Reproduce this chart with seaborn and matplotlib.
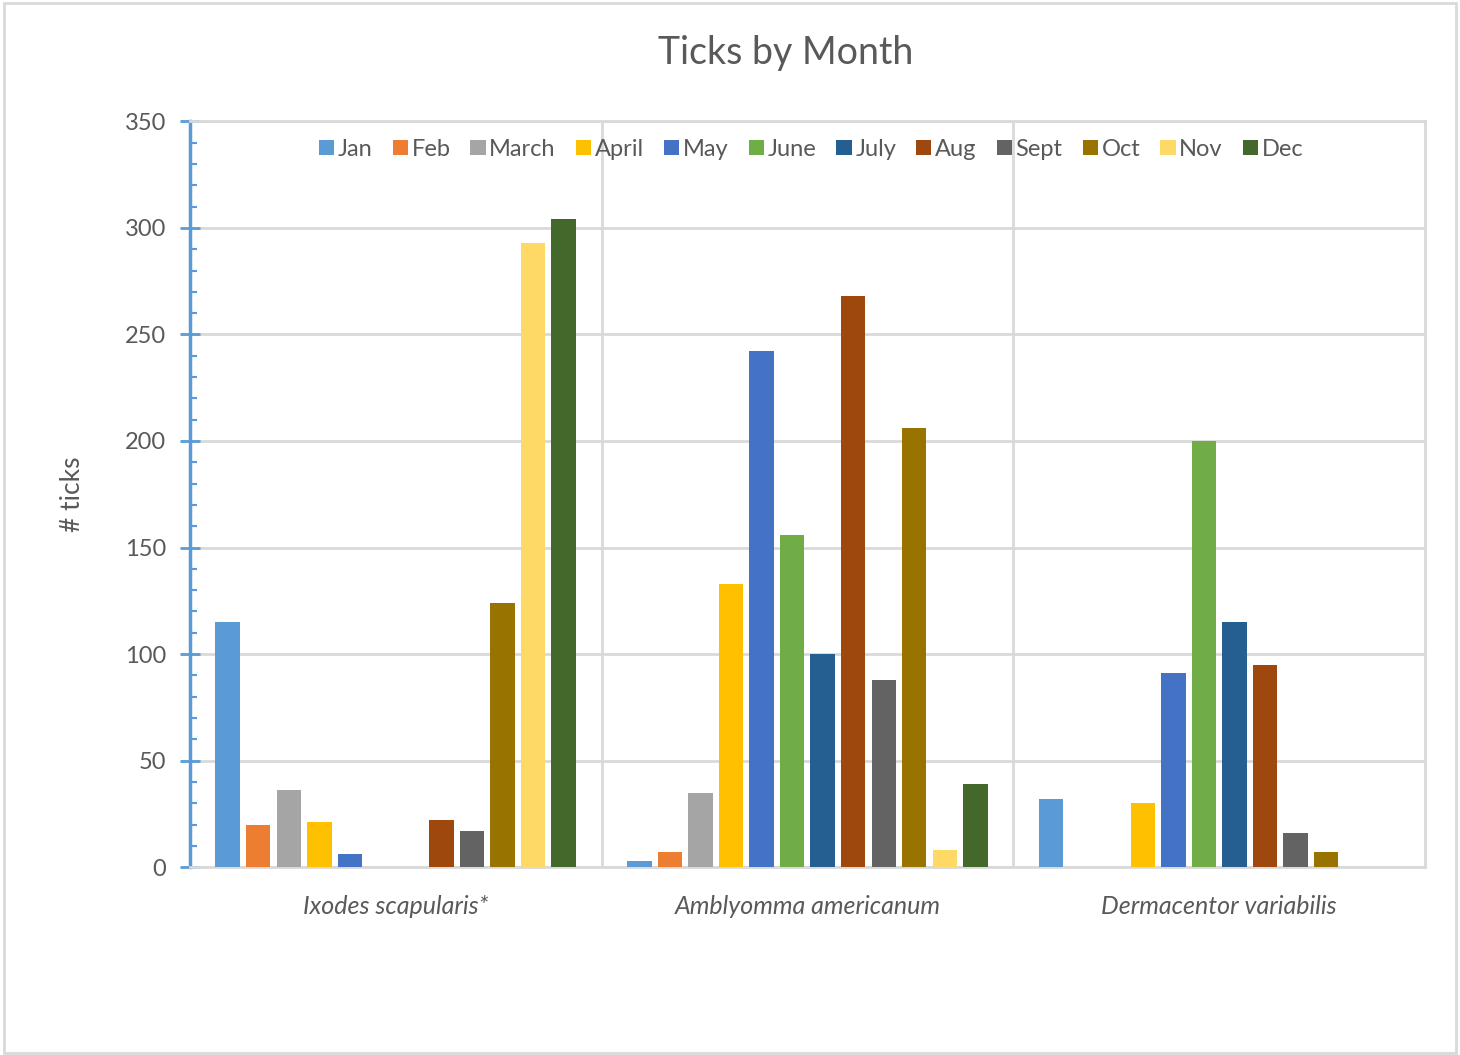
import matplotlib
matplotlib.use("Agg")
import matplotlib.pyplot as plt
import seaborn as sns
import pandas as pd
from matplotlib.patches import Rectangle
from matplotlib.ticker import MultipleLocator

species = ["Ixodes scapularis*", "Amblyomma americanum", "Dermacentor variabilis"]
months = ["Jan", "Feb", "March", "April", "May", "June", "July", "Aug", "Sept", "Oct", "Nov", "Dec"]
ixodes = [115, 20, 36, 21, 6, 0, 0, 22, 17, 124, 293, 304]
amblyomma = [3, 7, 35, 133, 242, 156, 100, 268, 88, 206, 8, 39]
dermacentor = [32, 0, 0, 30, 91, 200, 115, 95, 16, 7, 0, 0]
colors = ["#5B9BD5", "#ED7D31", "#A5A5A5", "#FFC000", "#4472C4", "#70AD47",
          "#255E91", "#9E480E", "#636363", "#997300", "#FFD966", "#43682B"]

rows = []
for sp, vals in zip(species, [ixodes, amblyomma, dermacentor]):
    for m, v in zip(months, vals):
        rows.append({"species": sp, "month": m, "count": v})
df = pd.DataFrame(rows)

sns.set_theme(style="white")
plt.rcParams['font.family'] = ['Lato', 'DejaVu Sans']
txt = "#595959"
grid = "#D9D9D9"

fig = plt.figure(figsize=(14.6, 10.55), dpi=100)
ax = fig.add_axes([0.130, 0.178, 0.846, 0.707])

sns.barplot(data=df, x="species", y="count", hue="month", hue_order=months,
            order=species, palette=colors, saturation=1, width=0.89, gap=0.2, ax=ax,
            linewidth=0, errorbar=None, zorder=3)

ax.set_ylim(0, 350)
ax.set_xlim(-0.5, 2.5)
ax.yaxis.set_major_locator(MultipleLocator(50))
ax.yaxis.set_minor_locator(MultipleLocator(10))
ax.grid(axis="y", which="major", color=grid, linewidth=2, zorder=0)
for xb in [0.5, 1.5]:
    ax.axvline(xb, color=grid, linewidth=2, zorder=1)

for s in ["top", "right", "bottom"]:
    ax.spines[s].set_color(grid)
    ax.spines[s].set_linewidth(2)
ax.spines["left"].set_color("#5B9BD5")
ax.spines["left"].set_linewidth(2.5)
ax.tick_params(axis="y", which="major", direction="inout", length=14, width=2,
               color="#5B9BD5", labelsize=17, labelcolor=txt, pad=10, left=True)
ax.tick_params(axis="y", which="minor", direction="in", length=5, width=1.5,
               color="#5B9BD5", left=True)
ax.tick_params(axis="x", length=0, labelsize=18, labelcolor=txt, pad=20)
for lab in ax.get_xticklabels():
    lab.set_fontstyle("italic")

ax.set_xlabel("")
ax.set_ylabel("# ticks", fontsize=19, color=txt, labelpad=29)
fig.text(0.538, 0.950, "Ticks by Month", fontsize=27, color=txt, ha="center", va="center")

handles, labels = ax.get_legend_handles_labels()
ax.legend(handles, labels, ncol=12, loc="upper center", bbox_to_anchor=(0.503, 1.005),
          frameon=False, fontsize=17, labelcolor=txt, handlelength=0.65,
          handleheight=0.65, handletextpad=0.15, columnspacing=0.85)

fig.patches.append(Rectangle((0.003, 0.002), 0.994, 0.995, transform=fig.transFigure,
                             fill=False, edgecolor=grid, linewidth=2))

fig.savefig("out.png", dpi=100)
